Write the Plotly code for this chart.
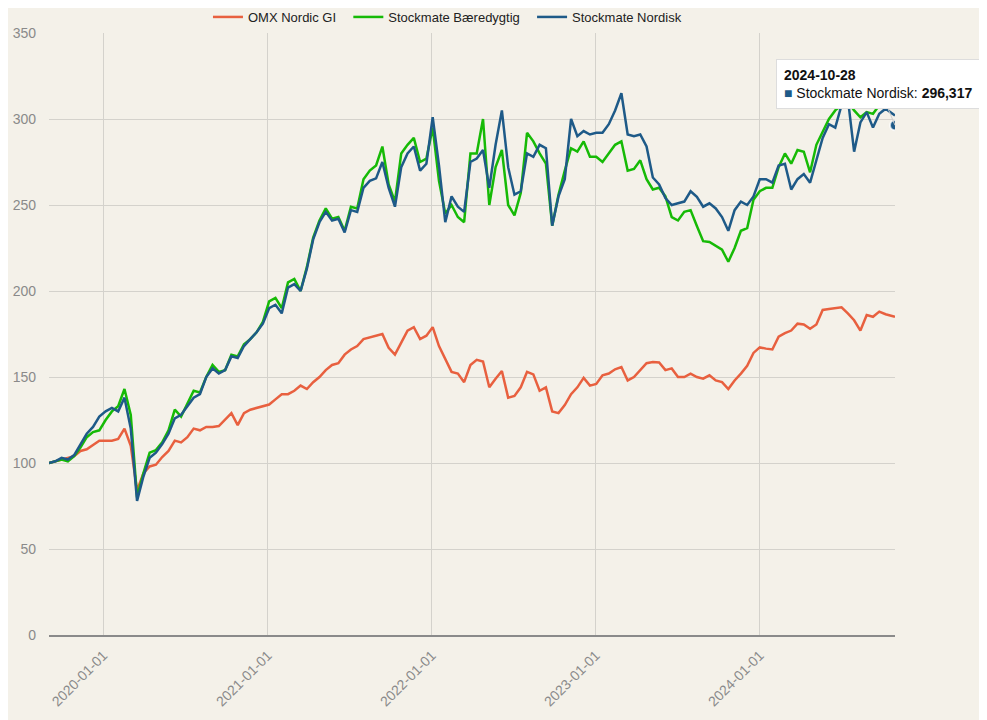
import plotly.graph_objects as go
import pandas as pd

# Datoer: hver anden uge fra 2019-09-02, plus sidste uge 2024-10-28
datoer = list(pd.date_range("2019-09-02", "2024-10-14", freq="14D").strftime("%Y-%m-%d")) + ["2024-10-28"]

omx_nordic = [
    100, 101, 102, 103, 104, 107, 108, 110.5, 113, 113,
    113, 114, 120, 110, 84, 94, 98, 99, 103.5, 107,
    113, 112, 115, 120, 119, 121, 121, 121.5, 125, 129,
    122, 129, 131, 132, 133, 134, 137, 140, 140, 142,
    145, 143, 147, 150, 154, 157, 158, 163, 166, 168,
    172, 173, 174, 175, 167, 163, 170, 177, 179, 172,
    174, 179, 168, 160, 153, 152, 147, 157, 160, 159,
    144, 149, 153.5, 138, 139, 144, 153, 151.5, 142, 144,
    130, 129, 133.7, 140, 144, 149.5, 145, 146, 151, 152,
    154.5, 155.8, 148, 150, 154, 158, 158.7, 158.5, 154, 155,
    150, 150, 152, 150, 149, 151, 148, 147, 143, 148,
    152, 156.5, 164, 167.2, 166.5, 166, 173.5, 175.5, 177, 181,
    180.5, 178, 180.5, 189, 189.5, 190, 190.5, 187, 183, 177,
    186, 185, 188, 186.5, 185, 184,
]

baeredygtig = [
    100, 101, 102, 101, 104, 109, 115, 118, 119, 125,
    130, 133, 143, 128, 80, 94, 106, 107.5, 112, 119,
    131, 127, 135, 142, 141, 150, 157, 153, 154, 163,
    162, 169, 172, 176, 182, 194, 196, 190, 205, 207,
    200, 214, 231, 241, 248, 242, 243, 235, 249, 248,
    265, 270, 273, 284, 262, 252, 280, 285, 289, 275,
    277, 295, 264, 245, 250, 243, 240, 280, 280, 300,
    250, 272, 282, 250, 244, 257, 292, 287, 280, 274,
    238, 256, 270, 283, 281, 287, 278, 278, 275, 280,
    285, 287, 270, 271, 276, 265, 259, 260, 255, 243,
    241, 246, 247, 237.8, 229, 228.5, 226, 224, 217, 225,
    235, 236.6, 253, 258, 260, 260, 272, 280, 274, 282,
    281, 269, 285, 293, 300, 305, 308, 310, 305, 301,
    304, 303, 308, 308, 309, 307,
]

nordisk = [
    100, 101, 103, 102, 104.6, 111, 117, 121, 127, 130,
    132, 130, 138, 120, 78, 92, 103, 106, 111, 117,
    126, 128, 133, 138, 140, 150, 155, 152, 154, 162,
    161, 168, 172, 176, 181, 190, 192, 187, 202, 204,
    200, 213, 230, 240, 246, 241, 242, 234, 247, 246,
    260, 264, 265.5, 275, 260, 249, 272, 280, 284, 270,
    274, 301, 273, 240, 255, 249, 246, 275, 277, 282,
    260, 285, 305, 272, 256, 258, 280, 278, 285, 283,
    238, 255, 265, 300, 290, 293, 291, 292, 292, 297,
    305, 315, 291, 290, 291, 284, 266, 262, 254, 250,
    251, 252, 258, 254.7, 249, 251, 248, 243, 235, 247,
    252, 250, 255, 265, 265, 263, 273, 274, 259, 265,
    268, 263, 276, 289, 297, 295, 308, 312, 281, 298,
    304, 295, 303, 306, 302, 296.317,
]

aarstal = ["2020-01-01", "2021-01-01", "2022-01-01", "2023-01-01", "2024-01-01"]

farve_omx = "#E8603F"
farve_baer = "#16BA06"
farve_nord = "#1E5A88"

# lidt ekstra luft mellem legend-punkterne
luft = "\u00a0\u00a0"

fig = go.Figure()

fig.add_trace(go.Scatter(x=datoer, y=omx_nordic, mode="lines", name="OMX Nordic GI" + luft,
                         line=dict(color=farve_omx, width=2.5)))
fig.add_trace(go.Scatter(x=datoer, y=baeredygtig, mode="lines", name="Stockmate Bæredygtig" + luft,
                         line=dict(color=farve_baer, width=2.5)))
fig.add_trace(go.Scatter(x=datoer, y=nordisk, mode="lines", name="Stockmate Nordisk",
                         line=dict(color=farve_nord, width=2.5)))

# markeret punkt (sidste værdi)
fig.add_trace(go.Scatter(x=[datoer[-1]], y=[nordisk[-1]], mode="markers", showlegend=False,
                         marker=dict(color=farve_nord, size=10,
                                     line=dict(color="rgba(255,255,255,0.7)", width=2))))

# tooltip som annotation
fig.add_annotation(
    x=datoer[-1], y=nordisk[-1],
    text=("<b>" + datoer[-1] + "</b><br>"
          + "<span style='color:" + farve_nord + "'>■</span> Stockmate Nordisk: <b>"
          + f"{nordisk[-1]:.3f}".replace(".", ",") + "</b>"),
    align="left", showarrow=True, arrowhead=0, arrowcolor="#cccccc", arrowwidth=1,
    ax=-17, ay=-41,
    bgcolor="white", bordercolor="#dddddd", borderwidth=1, borderpad=7,
    font=dict(family="Liberation Sans, Arial", size=14, color="#111111"),
)

# siden har 8px margin, så figuren er lidt mindre end vinduet
fig.update_layout(
    width=979, height=712,
    paper_bgcolor="#F4F1E9", plot_bgcolor="#F4F1E9",
    margin=dict(l=41, r=92, t=25, b=85, autoexpand=False),
    font=dict(family="Liberation Sans, Arial", size=14, color="#333333"),
    showlegend=True,
    legend=dict(orientation="h", x=0.471, xanchor="center", y=1.0266, yanchor="middle",
                font=dict(size=13, color="#222222"), bgcolor="rgba(0,0,0,0)"),
    hovermode="closest",
)

fig.update_xaxes(
    range=["2019-09-02", "2024-10-28"],
    tickvals=aarstal, ticktext=aarstal,
    tickangle=-45, tickfont=dict(color="#8a8a8a", size=14),
    ticklabelstandoff=5,
    showgrid=True, gridcolor="#d4d2cc", gridwidth=1,
    showline=True, linecolor="#8a8a8a", linewidth=1.5,
    ticks="", zeroline=False,
)
fig.update_yaxes(
    range=[0, 350], dtick=50,
    tickfont=dict(color="#8a8a8a", size=14),
    ticklabelstandoff=12,
    showgrid=True, gridcolor="#d4d2cc", gridwidth=1,
    zeroline=False, showline=False, ticks="",
)

fig.write_html("out.html")
